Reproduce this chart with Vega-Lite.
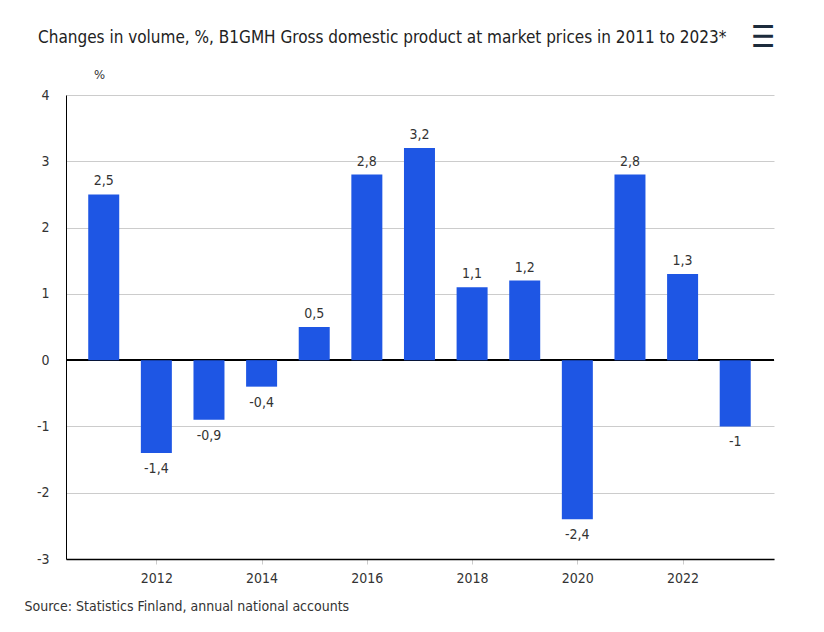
{
  "$schema": "https://vega.github.io/schema/vega-lite/v6.json",
  "autosize": {"type": "none"},
  "width": 708,
  "height": 464,
  "padding": {"left": 66, "top": 95, "right": 50, "bottom": 73},
  "background": "white",
  "config": {
    "locale": {"number": {"decimal": ",", "thousands": " ", "grouping": [3], "currency": ["", " €"], "minus": "-"}},
    "font": "DejaVu Sans Condensed, Liberation Sans Narrow, Roboto",
    "view": {"stroke": null}
  },
  "title": {
    "text": "Changes in volume, %, B1GMH Gross domestic product at market prices in 2011 to 2023*",
    "anchor": "start",
    "frame": "group",
    "dx": -28,
    "dy": 54,
    "fontSize": 17,
    "fontWeight": "normal",
    "color": "#222222",
    "offset": 30
  },
  "data": {
    "values": [
      {"year": 2011, "value": 2.5},
      {"year": 2012, "value": -1.4},
      {"year": 2013, "value": -0.9},
      {"year": 2014, "value": -0.4},
      {"year": 2015, "value": 0.5},
      {"year": 2016, "value": 2.8},
      {"year": 2017, "value": 3.2},
      {"year": 2018, "value": 1.1},
      {"year": 2019, "value": 1.2},
      {"year": 2020, "value": -2.4},
      {"year": 2021, "value": 2.8},
      {"year": 2022, "value": 1.3},
      {"year": 2023, "value": -1.0}
    ]
  },
  "encoding": {
    "x": {
      "field": "year",
      "type": "quantitative",
      "scale": {"domain": [2010.378, 2023.642], "nice": false, "zero": false},
      "axis": {
        "values": [2012, 2014, 2016, 2018, 2020, 2022],
        "format": "d",
        "grid": false,
        "domainColor": "#000000",
        "domainWidth": 1.5,
        "tickColor": "#cccccc",
        "tickSize": 5,
        "labelFontSize": 14,
        "labelColor": "#333333",
        "labelPadding": 7,
        "title": "Source: Statistics Finland, annual national accounts",
        "titleFontSize": 14,
        "titleFontWeight": "normal",
        "titleColor": "#333333",
        "titleAnchor": "start",
        "titleAlign": "left",
        "titleX": -42,
        "titleY": 40
      }
    },
    "y": {
      "field": "value",
      "type": "quantitative",
      "scale": {"domain": [-3, 4], "nice": false},
      "axis": {
        "values": [-3, -2, -1, 0, 1, 2, 3, 4],
        "gridColor": "#cccccc",
        "gridWidth": 1,
        "domainColor": "#000000",
        "domainWidth": 1,
        "ticks": false,
        "labelPadding": 17,
        "labelFontSize": 14,
        "labelColor": "#333333",
        "title": "%",
        "titleAngle": 0,
        "titleFontSize": 13,
        "titleFontWeight": "normal",
        "titleColor": "#333333",
        "titleX": 33,
        "titleY": -14
      }
    }
  },
  "layer": [
    {
      "mark": {"type": "rule", "color": "#000000", "strokeWidth": 1},
      "encoding": {"y": {"datum": 0}, "x": null}
    },
    {
      "mark": {"type": "bar", "size": 31, "color": "#1e56e4"}
    },
    {
      "transform": [{"filter": "datum.value >= 0"}],
      "mark": {"type": "text", "dy": -6, "baseline": "bottom", "fontSize": 14, "color": "#333333"},
      "encoding": {"text": {"field": "value", "type": "quantitative", "format": "~g"}}
    },
    {
      "transform": [{"filter": "datum.value < 0"}],
      "mark": {"type": "text", "dy": 9, "baseline": "top", "fontSize": 14, "color": "#333333"},
      "encoding": {"text": {"field": "value", "type": "quantitative", "format": "~g"}}
    },
    {
      "data": {"values": [{"icon": "☰", "ix": 2023.53, "iy": 4.86}]},
      "mark": {"type": "text", "fontSize": 30, "color": "#1c2b3c", "clip": false, "baseline": "middle"},
      "encoding": {
        "x": {"field": "ix", "type": "quantitative"},
        "y": {"field": "iy", "type": "quantitative"},
        "text": {"field": "icon"}
      }
    }
  ]
}
